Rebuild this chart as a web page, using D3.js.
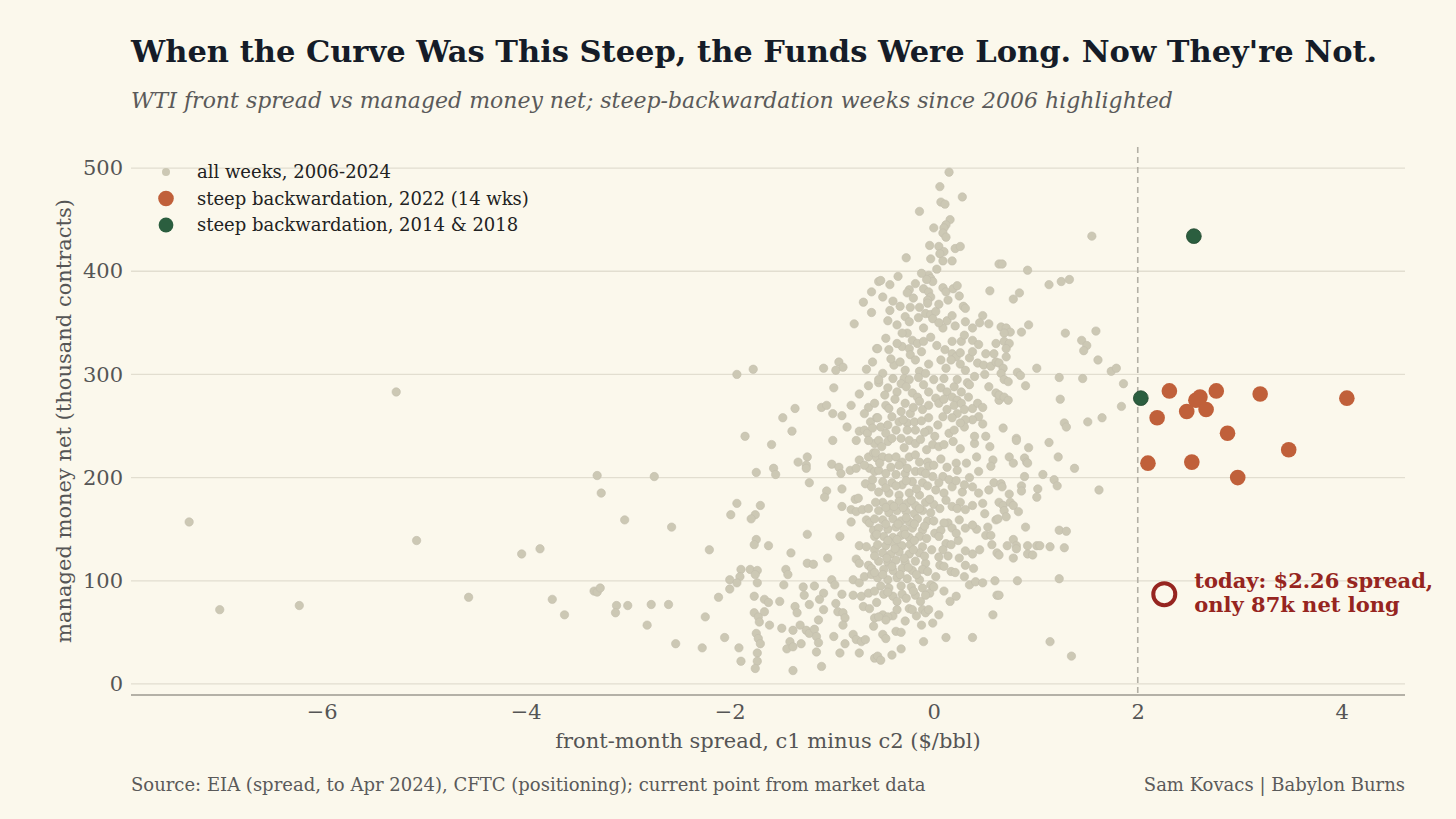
<!DOCTYPE html>
<html>
<head>
<meta charset="utf-8">
<script src="https://cdn.jsdelivr.net/npm/d3@7"></script>
<style>
  html, body { margin: 0; padding: 0; background: #fbf8ec; }
  svg { display: block; font-family: "DejaVu Serif", serif; }
</style>
</head>
<body>
<svg id="chart" width="1456" height="819"></svg>
<script>
// all weekly points [spread $/bbl, managed money net k contracts]
var allWeeks = [
  // far left outliers
  [-7.30,157],[-7.00,72],[-6.22,76],[-5.27,283],[-5.07,139],[-4.56,84],[-4.04,126],[-3.86,131],[-3.74,82],[-3.62,67],
  [-3.30,202],[-3.26,185],[-3.33,90],[-3.30,89],[-3.27,93],[-3.11,76],[-3.12,69],[-3.00,76],[-3.03,159],[-2.74,201],
  [-2.77,77],[-2.81,57],[-2.57,152],[-2.60,77],[-2.53,39],
  // left flank, upper
  [-0.61,380],[-0.54,390],[-0.69,370],[-0.61,360],[-0.78,349],[-0.56,325],[-1.93,300],[-1.77,305],[-1.08,306],[-0.93,312],
  [-0.89,307],[-0.96,304],[-0.66,305],[-0.98,287],[-0.64,289],[-0.73,281],[-0.54,292],[-1.36,267],[-1.48,258],[-1.10,268],
  [-1.05,270],[-0.81,270],[-0.64,268],[-0.99,262],[-0.90,260],[-0.85,249],[-1.39,245],[-1.85,240],[-0.62,254],[-0.56,258],
  [-0.73,245],[-0.68,246],[-0.65,243],[-0.58,233],[-0.76,236],[-0.99,236],[-1.59,232],[-1.24,220],[-1.25,212],[-1.25,209],
  [-1.33,215],[-1.74,205],[-1.57,209],[-1.55,203],[-1.00,213],[-0.93,210],[-0.91,204],[-0.82,207],[-0.76,209],[-0.73,217],
  [-0.64,220],[-0.59,224],[-0.56,219],[-0.63,209],[-0.58,206],
  // left flank, lower
  [-1.22,195],[-1.05,187],[-1.07,181],[-0.90,189],[-1.93,175],[-1.99,164],[-1.70,173],[-1.75,164],[-1.79,160],[-0.90,172],
  [-0.77,179],[-0.74,180],[-0.67,194],[-0.61,191],[-0.81,169],[-0.76,167],[-0.70,169],[-0.81,157],[-0.66,159],[-0.63,156],
  [-1.24,145],[-0.92,143],[-0.59,149],[-0.58,143],[-1.74,140],[-1.76,135],[-1.62,134],[-2.20,130],[-1.40,127],[-0.73,134],
  [-0.66,133],[-0.58,130],[-1.04,122],[-1.24,117],[-1.18,116],[-0.76,121],[-0.73,117],[-0.64,115],[-0.61,112],[-1.89,111],
  [-1.80,111],[-1.73,110],[-1.90,104],[-1.75,106],[-2.00,101],[-1.93,98],[-1.73,98],[-1.45,111],[-1.43,106],[-1.47,96],
  [-1.00,101],[-0.97,96],[-0.79,101],[-0.73,98],[-0.68,104],[-0.61,106],[-1.17,95],[-1.28,94],[-1.27,86],[-2.00,92],
  [-2.11,84],[-1.76,85],[-1.51,80],[-1.66,82],[-1.62,79],[-1.08,88],[-1.12,82],[-0.90,87],[-0.79,86],[-0.71,85],
  [-0.64,88],[-1.22,77],[-0.96,78],[-0.69,75],[-0.63,73],[-0.56,79],[-1.36,75],[-1.34,69],[-1.76,69],[-1.72,65],
  [-1.71,60],[-1.66,70],[-2.24,65],[-1.08,72],[-0.94,70],[-0.89,69],[-0.87,64],[-1.13,62],[-1.61,57],[-1.49,54],
  [-1.31,57],[-1.38,52],[-1.25,52],[-1.22,49],[-1.17,53],[-1.15,46],[-0.89,57],[-0.59,56],[-1.74,49],[-1.72,44],
  [-1.70,39],[-2.05,45],[-2.27,35],[-1.91,35],[-1.41,41],[-1.44,34],[-1.38,36],[-1.30,39],[-1.13,40],[-1.15,31],
  [-0.98,46],[-0.87,39],[-0.79,48],[-0.76,43],[-0.71,41],[-0.67,43],[-0.92,30],[-0.73,30],[-0.58,25],[-1.73,30],
  [-1.73,22],[-1.75,15],[-1.89,22],[-1.38,13],[-1.10,17],
  // core, top
  [0.15,496],[0.06,482],[0.28,472],[0.07,467],[0.11,465],[-0.14,458],[0.16,450],[0.12,445],[0.10,442],[0.00,442],
  [0.09,437],[0.12,433],[-0.04,425],[0.05,424],[0.10,419],[0.06,417],[0.21,422],[0.26,424],[-0.27,413],[-0.03,412],
  [0.09,410],[0.18,410],[0.64,407],[-0.05,396],[-0.03,393],[-0.01,390],[-0.07,392],[-0.52,391],[-0.43,387],[-0.50,375],
  [-0.24,382],[-0.26,379],[-0.10,383],[-0.05,380],[-0.03,375],[-0.06,372],[0.09,384],[0.12,380],[0.19,383],[0.23,386],
  [0.55,381],[0.14,372],[-0.43,362],[-0.23,365],[-0.14,365],[-0.06,369],[-0.08,359],[-0.03,358],[0.02,361],[-0.01,354],
  [0.29,366],[0.31,364],[-0.28,356],[-0.24,351],[0.13,352],[0.21,347],[0.31,351],[0.48,357],[0.54,349],[-0.10,345],
  [0.09,345],
  // core, middle
  [-0.26,340],[-0.21,333],[-0.16,330],[-0.10,332],[-0.31,327],[-0.24,325],[-0.44,324],[-0.55,325],[-0.23,319],[0.18,332],
  [0.27,332],[0.38,333],[0.44,329],[0.11,324],[0.18,320],[0.22,317],[0.17,314],[0.07,314],[0.35,316],[0.51,320],
  [0.59,320],[0.61,330],[0.43,311],[0.49,309],[0.56,308],[0.61,312],[-0.39,309],[-0.50,301],[-0.54,295],[-0.28,304],
  [-0.29,296],[-0.24,295],[-0.14,303],[-0.08,301],[-0.45,287],[-0.32,291],[-0.21,282],[-0.16,278],[0.07,287],[0.13,283],
  [0.20,288],[0.27,283],[0.18,278],[0.23,275],[0.31,304],[0.40,298],[0.23,295],[0.54,288],[0.61,282],[0.64,275],
  [0.02,277],[0.05,272],[-0.47,270],[-0.44,267],[-0.32,264],[-0.23,262],[-0.14,274],[-0.11,266],[0.20,270],[0.27,272],
  [0.30,266],[0.23,262],[0.18,258],[0.38,267],[0.43,272],[0.44,259],[0.38,256],[0.31,256],[-0.55,258],[-0.52,249],
  [-0.47,243],[-0.54,236],[-0.45,235],[-0.41,259],[-0.34,254],[-0.26,253],[-0.19,254],[-0.18,246],[-0.26,246],[-0.37,246],
  [-0.32,238],[-0.24,236],[-0.18,233],[-0.05,246],[-0.01,232],[0.05,230],[0.10,232],[0.15,243],[0.20,246],[0.30,249],
  [0.51,240],[-0.57,224],[-0.50,220],[-0.44,219],[-0.37,220],[-0.31,215],[-0.24,220],[-0.18,222],[-0.14,215],[-0.06,215],
  [-0.05,211],[0.22,214],[0.23,207],[0.58,217],[0.56,211],[0.44,206],[-0.54,207],[-0.47,204],[-0.37,203],[-0.28,204],
  [-0.18,206],[-0.50,196],[-0.41,195],[-0.31,193],[-0.21,196],[-0.11,195],[-0.54,186],[-0.44,185],[-0.34,183],[-0.24,185],
  [-0.14,183],[-0.01,201],[0.09,201],[0.15,198],[0.02,188],[0.10,185],[0.18,191],[0.28,186],[0.38,191],[0.44,185],
  [0.54,188],[0.59,195],
  // core, dense lower blob
  [-0.50,176],[-0.42,174],[-0.34,177],[-0.26,175],[-0.18,173],[-0.08,176],[0.00,174],
  [-0.54,168],[-0.44,166],[-0.36,168],[-0.27,167],[-0.19,165],[-0.11,168],[-0.03,166],
  [-0.50,159],[-0.40,160],[-0.32,158],[-0.24,157],[-0.16,160],[-0.06,158],
  [-0.54,151],[-0.45,150],[-0.37,152],[-0.29,150],[-0.21,151],[-0.11,149],
  [-0.49,143],[-0.40,142],[-0.32,144],[-0.24,142],[-0.14,143],
  [-0.55,135],[-0.47,134],[-0.39,136],[-0.31,134],[-0.23,135],[-0.11,133],
  [-0.50,127],[-0.42,126],[-0.34,128],[-0.24,126],[-0.14,127],
  [-0.54,119],[-0.45,118],[-0.37,120],[-0.28,118],[-0.18,119],[-0.08,117],
  [-0.49,111],[-0.40,110],[-0.31,112],[-0.21,110],[-0.11,111],
  [-0.55,103],[-0.45,101],[-0.36,103],[-0.26,102],[-0.14,101],
  [-0.52,95],[-0.44,93],[-0.32,95],[-0.22,94],[-0.11,93],[-0.01,95],
  [-0.49,87],[-0.40,85],[-0.31,87],[-0.18,86],
  // core, overlapping weeks hidden inside the blob
  [-0.35,395],[-0.12,398],[0.03,402],[-0.18,388],[-0.40,371],[-0.20,374],[0.05,368],[0.25,376],[-0.33,366],
  [-0.45,352],[-0.36,348],[-0.15,355],[0.05,350],[0.18,357],[0.38,345],[-0.31,340],
  [-0.47,335],[-0.36,330],[-0.03,336],[0.03,328],[0.30,338],[-0.12,322],[0.26,321],
  [-0.42,315],[-0.33,312],[-0.18,314],[-0.05,310],[0.12,306],[0.26,310],[-0.60,312],[-0.15,297],
  [-0.40,296],[-0.36,283],[-0.27,288],[-0.10,290],[0.00,295],[0.10,296],[0.33,292],[-0.05,283],[-0.48,280],
  [-0.58,272],[-0.38,276],[-0.28,272],[-0.20,268],[-0.05,270],[0.10,276],[0.13,266],[0.34,278],[0.48,268],[-0.68,262],
  [-0.45,251],[-0.30,256],[-0.12,255],[-0.05,258],[0.04,251],[0.09,259],[0.26,253],[0.48,252],[-0.60,248],[-0.09,244],
  [-0.51,230],[-0.41,238],[-0.29,229],[-0.13,237],[-0.07,227],[0.01,240],[0.19,235],[0.26,228],[0.40,233],[-0.64,236],
  [-0.53,214],[-0.42,210],[-0.34,212],[-0.26,209],[-0.12,206],[0.00,212],[0.07,218],[0.13,210],[0.32,214],[0.42,220],
  [-0.68,212],[-0.47,190],[-0.37,192],[-0.27,197],[-0.17,189],[-0.06,192],[0.05,195],[0.22,197],[0.30,193],[-0.60,198],
  [-0.08,204],[-0.57,176],[-0.47,171],[-0.39,172],[-0.30,171],[-0.22,178],[-0.14,170],[-0.04,179],[0.06,170],[0.12,178],
  [0.26,176],[-0.64,170],[-0.58,160],[-0.47,155],[-0.35,155],[-0.27,161],[-0.19,155],[-0.09,153],[0.00,158],[0.14,156],
  [0.25,159],[0.42,150],[-0.56,145],[-0.45,139],[-0.36,140],[-0.28,145],[-0.19,139],[-0.07,141],[0.01,146],[0.24,139],
  [-0.58,124],[-0.46,122],[-0.38,131],[-0.29,122],[-0.20,130],[-0.09,124],[-0.02,130],[0.14,124],[0.38,126],
  [-0.58,108],[-0.50,106],[-0.41,114],[-0.33,106],[-0.25,113],[-0.17,106],[-0.06,109],[0.02,104],[0.06,115],[0.30,104],
  [-0.58,90],[-0.45,89],[-0.36,80],[-0.27,83],[-0.20,90],[-0.13,80],[-0.04,88],[0.10,90],[0.16,80],
  [-0.40,66],[-0.28,61],[-0.17,66],[0.05,67],[-0.58,64],
  [0.40,240],[0.55,230],[0.35,200],[0.50,165],[0.45,130],[0.60,100],[0.35,290],[0.50,300],[0.45,350],[0.38,322],
  // core, lower right and bottom
  [0.10,156],[0.07,149],[0.05,143],[0.18,151],[0.22,146],[0.12,136],[0.17,135],[0.09,130],[0.05,123],[0.18,172],
  [0.23,170],[0.31,169],[0.38,173],[0.48,175],[0.31,151],[0.38,154],[0.53,152],[0.51,144],[0.56,144],[0.61,159],
  [0.57,135],[0.62,127],[0.31,129],[0.25,122],[0.31,115],[0.39,112],[0.10,114],[0.17,109],[0.21,108],[0.35,96],
  [0.41,99],[0.48,98],[0.62,86],[0.22,85],[-0.08,86],[-0.03,96],[0.00,94],[-0.24,73],[-0.21,72],[-0.11,72],
  [-0.08,69],[-0.05,72],[-0.36,72],[-0.50,67],[-0.45,65],[-0.47,62],[-0.54,65],[0.58,67],[-0.01,59],[-0.12,57],
  [-0.37,51],[-0.32,50],[-0.50,48],[-0.47,44],[-0.10,41],[0.12,45],[0.38,45],[-0.32,34],[-0.41,28],[-0.55,27],
  [-0.52,23],
  // right flank
  [0.67,407],[0.92,401],[1.13,387],[1.25,390],[1.33,392],[0.84,379],[0.78,373],[0.66,346],[0.71,345],[0.75,341],
  [0.69,340],[0.93,348],[0.86,341],[1.29,340],[0.69,332],[0.74,330],[0.71,325],[0.71,317],[0.64,311],[0.68,306],
  [0.66,301],[0.69,295],[0.73,293],[1.01,306],[0.82,302],[0.85,299],[0.90,289],[1.23,297],[0.64,280],[0.69,278],
  [0.73,275],[1.24,276],[0.68,248],[1.28,253],[1.30,249],[0.81,238],[0.81,236],[0.93,229],[1.13,234],[0.74,220],
  [0.89,219],[0.91,215],[1.22,220],
  [1.55,434],[1.59,342],[1.45,333],[1.50,328],[1.47,323],[1.61,314],[1.74,303],[1.79,306],[1.46,296],[1.86,291],
  [1.84,269],[1.65,258],[1.51,254],[1.62,188],
  [0.78,214],[0.92,214],[0.89,201],[1.07,203],[1.18,198],[1.21,192],[1.38,209],[0.66,194],[0.67,191],[0.86,192],
  [0.86,187],[1.02,189],[1.01,181],[0.74,184],[0.64,176],[0.68,173],[0.75,176],[0.78,173],[0.83,167],[0.69,168],
  [0.71,162],[0.63,160],[0.90,152],[1.23,149],[1.30,148],[0.78,140],[0.81,134],[0.81,131],[0.72,134],[0.64,125],
  [0.78,122],[0.92,134],[0.92,126],[0.97,125],[1.01,134],[1.04,134],[1.14,133],[1.28,132],[0.82,100],[1.23,102],
  [0.64,86],[1.14,41],[1.35,27]
];

// steep backwardation weeks, 2022
var steep2022 = [
  [2.31,284],[2.57,275],[2.61,278],[2.77,284],[3.20,281],[4.05,277],[2.19,258],[2.48,264],
  [2.67,266],[2.88,243],[3.48,227],[2.10,214],[2.53,215],[2.98,200]
];
// steep backwardation weeks, 2014 & 2018
var steepOld = [[2.55,434],[2.03,277]];
// current point
var today = {spread: 2.26, net: 87};

var xTicks = [-6, -4, -2, 0, 2, 4];
var yTicks = [0, 100, 200, 300, 400, 500];
var steepLine = 2;

var legendItems = [
  {label: "all weeks, 2006-2024", color: "#ccc8b4", r: 4},
  {label: "steep backwardation, 2022 (14 wks)", color: "#c0603a", r: 7.8},
  {label: "steep backwardation, 2014 & 2018", color: "#2b5e3f", r: 7.4}
];

var svg = d3.select("#chart");
var pLeft = 131, pRight = 1405, pTop = 147, pBottom = 695;

var x = d3.scaleLinear().domain([-7.87, 4.62]).range([pLeft, pRight]);
var y = d3.scaleLinear().domain([-10.7, 520.4]).range([pBottom, pTop]);

svg.append("rect").attr("width", 1456).attr("height", 819).attr("fill", "#fbf8ec");

/* grid */
svg.append("g").selectAll("line").data(yTicks).enter().append("line")
  .attr("x1", pLeft).attr("x2", pRight)
  .attr("y1", function(d){ return y(d); }).attr("y2", function(d){ return y(d); })
  .attr("stroke", "#e2ded0").attr("stroke-width", 1.3);

/* axes */
var yAxis = svg.append("g").attr("transform", "translate(" + (pLeft - 8) + ",0)")
  .call(d3.axisLeft(y).tickValues(yTicks).tickSize(0).tickPadding(0));
yAxis.select(".domain").remove();
yAxis.selectAll("text").attr("font-family", "DejaVu Serif").attr("font-size", 21).attr("fill", "#555");

var xAxis = svg.append("g").attr("transform", "translate(0," + pBottom + ")")
  .call(d3.axisBottom(x).tickValues(xTicks).tickSize(0).tickPadding(9)
    .tickFormat(function(d){ return d < 0 ? "\u2212" + Math.abs(d) : d; }));
xAxis.select(".domain").remove();
xAxis.selectAll("text").attr("font-family", "DejaVu Serif").attr("font-size", 21).attr("fill", "#555");

svg.append("line").attr("x1", pLeft).attr("x2", pRight).attr("y1", pBottom).attr("y2", pBottom)
  .attr("stroke", "#9c9a90").attr("stroke-width", 1.3);

/* dashed threshold */
svg.append("line")
  .attr("x1", x(steepLine)).attr("x2", x(steepLine)).attr("y1", pTop).attr("y2", pBottom)
  .attr("stroke", "#b3b0a5").attr("stroke-width", 1.6).attr("stroke-dasharray", "6,4");

/* points */
svg.append("g").selectAll("circle").data(allWeeks).enter().append("circle")
  .attr("cx", function(d){ return x(d[0]); }).attr("cy", function(d){ return y(d[1]); })
  .attr("r", 4.2).attr("fill", "#ccc8b4").attr("stroke", "#c2bead").attr("stroke-width", 0.6);

svg.append("g").selectAll("circle").data(steep2022).enter().append("circle")
  .attr("cx", function(d){ return x(d[0]); }).attr("cy", function(d){ return y(d[1]); })
  .attr("r", 7.8).attr("fill", "#c0603a");

svg.append("g").selectAll("circle").data(steepOld).enter().append("circle")
  .attr("cx", function(d){ return x(d[0]); }).attr("cy", function(d){ return y(d[1]); })
  .attr("r", 7.4).attr("fill", "#2b5e3f").attr("stroke", "#22472f").attr("stroke-width", 0.8);

svg.append("circle")
  .attr("cx", x(today.spread)).attr("cy", y(today.net)).attr("r", 11)
  .attr("fill", "none").attr("stroke", "#962520").attr("stroke-width", 4);

var note = svg.append("text").attr("font-family", "DejaVu Serif").attr("font-weight", "bold")
  .attr("font-size", 21).attr("fill", "#962520");
note.append("tspan").attr("x", x(today.spread) + 30).attr("y", y(today.net) - 6)
  .text("today: $" + today.spread.toFixed(2) + " spread,");
note.append("tspan").attr("x", x(today.spread) + 30).attr("y", y(today.net) + 18)
  .text("only " + today.net + "k net long");

/* legend */
var lg = svg.append("g").selectAll("g").data(legendItems).enter().append("g")
  .attr("transform", function(d, i){ return "translate(166," + (172 + i*26.5) + ")"; });
lg.append("circle").attr("r", function(d){ return d.r; }).attr("fill", function(d){ return d.color; });
lg.append("text").attr("x", 31).attr("y", 6).attr("font-family", "DejaVu Serif")
  .attr("font-size", 18).attr("fill", "#222").text(function(d){ return d.label; });

/* titles */
svg.append("text").attr("x", pLeft).attr("y", 62)
  .attr("font-family", "DejaVu Serif").attr("font-weight", "bold").attr("font-size", 30.5)
  .attr("fill", "#151c28")
  .text("When the Curve Was This Steep, the Funds Were Long. Now They're Not.");
svg.append("text").attr("x", pLeft).attr("y", 108)
  .attr("font-family", "DejaVu Serif").attr("font-style", "italic").attr("font-size", 22)
  .attr("fill", "#5a5a5a")
  .text("WTI front spread vs managed money net; steep-backwardation weeks since 2006 highlighted");

svg.append("text").attr("x", (pLeft + pRight)/2).attr("y", 748).attr("text-anchor", "middle")
  .attr("font-family", "DejaVu Serif").attr("font-size", 21).attr("fill", "#555")
  .text("front-month spread, c1 minus c2 ($/bbl)");
svg.append("text").attr("transform", "translate(71," + ((pTop + pBottom)/2) + ") rotate(-90)")
  .attr("text-anchor", "middle")
  .attr("font-family", "DejaVu Serif").attr("font-size", 21).attr("fill", "#555")
  .text("managed money net (thousand contracts)");

svg.append("text").attr("x", pLeft).attr("y", 791)
  .attr("font-family", "DejaVu Serif").attr("font-size", 18).attr("fill", "#5a5a5a")
  .text("Source: EIA (spread, to Apr 2024), CFTC (positioning); current point from market data");
svg.append("text").attr("x", pRight).attr("y", 791).attr("text-anchor", "end")
  .attr("font-family", "DejaVu Serif").attr("font-size", 18).attr("fill", "#5a5a5a")
  .text("Sam Kovacs | Babylon Burns");
</script>
</body>
</html>
